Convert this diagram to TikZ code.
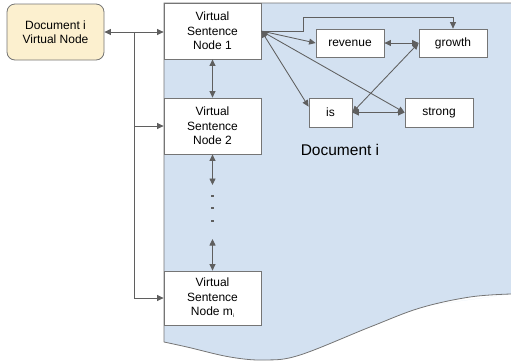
\documentclass[tikz,border=0pt]{standalone}
\usepackage{fontspec}
\setmainfont{Liberation Sans}
\usetikzlibrary{arrows.meta}
\definecolor{docblue}{HTML}{D3E1F1}
\definecolor{vnyellow}{HTML}{FCF0CF}
\definecolor{edgegray}{HTML}{757575}
\definecolor{arrgray}{HTML}{5F5F5F}
\tikzset{
  box/.style={draw=edgegray, line width=0.8pt, fill=white, inner sep=0pt, align=center,
    font=\fontsize{12}{14.5}\selectfont, text=black},
  conn/.style={draw=arrgray, line width=0.85pt, -{Triangle[length=6.5pt,width=6pt]}},
  dconn/.style={draw=arrgray, line width=0.85pt, {Triangle[length=6.5pt,width=6pt]}-{Triangle[length=6.5pt,width=6pt]}},
}
\begin{document}
\begin{tikzpicture}[x=1pt,y=-1pt]
\useasboundingbox (0,0) rectangle (511,360);
% document shape
\begin{scope}
\clip (0,0) rectangle (511,360);
\draw[draw=edgegray, line width=0.8pt, fill=docblue]
  (164,342) -- (164,3) -- (520,3) -- (520,294) -- (511,294)
  plot[smooth, tension=0.6] coordinates {(511,294) (470,297) (420,308) (370,327) (300,355) (265,360) (230,357) (187,347) (164,342)};
\end{scope}
% nodes
\node[box, rounded corners=8pt, fill=vnyellow, minimum width=97pt, minimum height=56pt] (dvn) at (55.5,32) {Document i\\Virtual Node};
\node[box, minimum width=97pt, minimum height=56pt] (v1) at (212.5,31) {Virtual\\Sentence\\Node 1};
\node[box, minimum width=97pt, minimum height=56pt] (v2) at (212.5,126) {Virtual\\Sentence\\Node 2};
\node[box, minimum width=97pt, minimum height=54pt] (vm) at (212.5,298) {Virtual\\Sentence\\Node m\raisebox{-0.35ex}{\fontsize{5}{5}\selectfont i}};
\node[box, minimum width=68pt, minimum height=28pt] (rev) at (350,43) {revenue};
\node[box, minimum width=68pt, minimum height=28pt] (gro) at (453,43) {growth};
\node[box, minimum width=43pt, minimum height=29pt] (is) at (330.5,112.5) {is};
\node[box, minimum width=68pt, minimum height=29pt] (str) at (439,112.5) {strong};
\node[font=\fontsize{15.5}{18}\selectfont, text=black] (doclabel) at (340,150) {Document i};
% bus
\coordinate (b1) at (134,32);
\coordinate (b2) at (134,126);
\coordinate (bm) at (134,298);
\draw[conn] (b1) -- (dvn.east);
\draw[conn] (b1) -- (v1.west |- b1);
\draw[conn] (b2) -- (v2.west);
\draw[conn] (b1) |- (vm.west);
% vertical chain
\coordinate (d1) at (212.5,185);
\coordinate (d2) at (212.5,239);
\draw[dconn] (v1.south) -- (v2.north);
\draw[dconn] (v2.south) -- (d1);
\draw[dconn] (d2) -- (vm.north);
\foreach \yy [count=\k] in {196,208,221} {
  \node[fill=arrgray, minimum size=2.6pt, inner sep=0pt] (dot\k) at (212.5,\yy) {};
}
% word graph
\draw[conn] (v1.east) -- ++(42,0) -- ++(0,-14) -| (gro.north);
\draw[conn] (v1.east) -- (rev.west);
\draw[dconn] (rev.east) -- (gro.west);
\draw[dconn] (v1.east) -- (is.165);
\draw[dconn] (v1.east) -- (str.west);
\draw[dconn] (is.east) -- (gro.west);
\draw[dconn] (is.east) -- (str.west);
\end{tikzpicture}
\end{document}
